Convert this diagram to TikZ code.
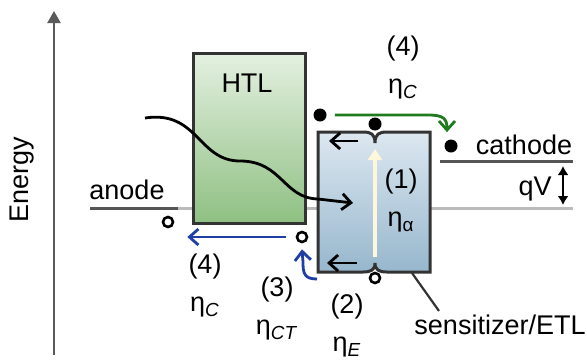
\documentclass[tikz,border=0pt]{standalone}
\usepackage{fontspec}
\setmainfont{Liberation Sans}
\usetikzlibrary{arrows.meta}
\definecolor{darklevel}{HTML}{555555}
\definecolor{lightlevel}{HTML}{BBBBBB}
\definecolor{axisgray}{HTML}{5A5A5A}
\definecolor{boxline}{HTML}{333333}
\definecolor{htltop}{HTML}{E4F0E0}
\definecolor{htlbot}{HTML}{8FC083}
\definecolor{etltop}{HTML}{DCE7F0}
\definecolor{etlbot}{HTML}{97B7CD}
\definecolor{greenarr}{HTML}{1E7B1E}
\definecolor{bluearr}{HTML}{1F3FA6}
\definecolor{cream}{HTML}{FFF7DC}
\begin{document}
\begin{tikzpicture}[
  x=0.5pt, y=-0.5pt,
  font=\fontsize{13.5}{19}\selectfont,
  level/.style={line width=1.5pt, draw=darklevel},
  ghost/.style={line width=1.5pt, draw=lightlevel},
  elec/.style={circle, fill=black, inner sep=0pt, minimum size=6.5pt},
  hole/.style={circle, draw=black, fill=white, line width=1.3pt, inner sep=0pt, minimum size=5pt},
  arrow/.style={-{Straight Barb[length=4.5pt,width=8pt]}, line width=1.4pt},
  lbl/.style={align=center, inner sep=0pt},
  htlbox/.style={draw=boxline, line width=1.5pt, top color=htltop, bottom color=htlbot, minimum width=56pt, minimum height=85pt, inner sep=0pt}
]
\useasboundingbox (0,0) rectangle (587,360);
\draw[axisgray, line width=1.1pt, -{Triangle[length=6pt,width=6.5pt]}] (54,355) -- (54,11);
\node[rotate=90] (energy) at (22,180) {Energy};
\draw[ghost] (178,208) -- (573,208);
\draw[level] (90,208) -- (178,208);
\draw[level] (440,161) -- (573,161);
\node[lbl] (anode) at (127,190) {anode};
\node[lbl] (cathode) at (524,145) {cathode};
\node[lbl] (qv) at (535,189) {qV};
\coordinate (qvtop) at (563,166);
\coordinate (qvbot) at (563,205);
\draw[{Latex[length=4.5pt,width=5.5pt]}-{Latex[length=4.5pt,width=5.5pt]}, line width=1pt] (qvtop) -- (qvbot);
\node[htlbox] (htl) at (249,138) {};
\node[lbl] (htltext) at (247,83) {HTL};
\shade[draw=boxline, line width=1.5pt, top color=etltop, bottom color=etlbot]
  (318,132) -- (363,132) .. controls (371,132) and (375,134) .. (375,143)
  .. controls (375,134) and (379,132) .. (387,132) -- (430,132) -- (430,272)
  -- (387,272) .. controls (379,272) and (375,270) .. (375,263)
  .. controls (375,270) and (371,272) .. (363,272) -- (318,272) -- cycle;
\coordinate (etlcorner) at (412,273);
\node[lbl] (etllabel) at (500,325) {sensitizer/ETL};
\draw[boxline, line width=1.1pt] (etlcorner) -- (439,311);
\coordinate (absbot) at (375,257);
\coordinate (abstop) at (375,149);
\draw[cream, line width=1.8pt, -{Triangle[length=5.5pt,width=7pt]}] (absbot) -- (abstop);
\coordinate (topr) at (358,141);
\coordinate (topl) at (329,141);
\coordinate (botr) at (357,263);
\coordinate (botl) at (327,263);
\draw[arrow] (topr) -- (topl);
\draw[arrow] (botr) -- (botl);
\coordinate (photon) at (145,118);
\coordinate (absorb) at (353,203);
\draw[arrow] (photon) .. controls (198,110) and (198,161) .. (240,161)
  .. controls (282,161) and (283,198) .. (318,199) -- (absorb);
\node[elec] (e1) at (320,115) {};
\node[elec] (e2) at (375,124) {};
\node[elec] (e3) at (451,146) {};
\node[hole] (h1) at (168,222) {};
\node[hole] (h2) at (302,237) {};
\node[hole] (h3) at (375,278) {};
\draw[arrow, greenarr] ([xshift=4pt]e1.east) -- (428,115) .. controls (444,115) and (447,119) .. ([xshift=-2pt,yshift=3.5pt]e3.north);
\draw[arrow, bluearr] ([xshift=-5pt]h2.west) -- ([xshift=6.5pt]h2.west -| h1.east);
\coordinate (curl) at (317,279);
\draw[arrow, bluearr] (curl) .. controls (304,279) and (303,273) .. (303,262) -- ([yshift=-3pt]h2.south);
\node[lbl] (topeff) at (403,68) {(4)\\η\textsubscript{\textit{C}}};
\node[lbl] (abseff) at (401,201) {(1)\\η\textsubscript{α}};
\node[lbl] (coleff) at (205,286) {(4)\\η\textsubscript{\textit{C}}};
\node[lbl] (cteff) at (277,309) {(3)\\η\textsubscript{\textit{CT}}};
\node[lbl] (exeff) at (347,326) {(2)\\η\textsubscript{\textit{E}}};
\end{tikzpicture}
\end{document}
